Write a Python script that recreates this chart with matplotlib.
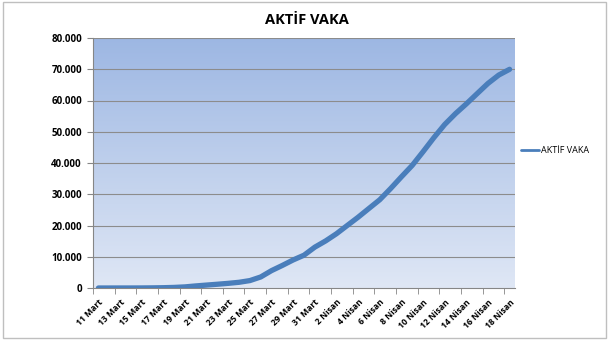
import numpy as np
import matplotlib.pyplot as plt
from matplotlib.patches import Rectangle

# Active cases, 11 Mart - 18 Nisan
days = [f"{d} Mart" for d in range(11, 32)] + [f"{d} Nisan" for d in range(1, 19)]
active = [1, 1, 5, 6, 18, 47, 97, 189, 356, 666, 938, 1206, 1492, 1828, 2374,
          3528, 5564, 7224, 8981, 10497, 13074, 15069, 17364, 20012, 22647,
          25453, 28242, 31802, 35568, 39232, 43600, 48101, 52312, 55796,
          58909, 62200, 65461, 68146, 69986]
series_name = "AKTİF VAKA"
y_ticks = [0, 10000, 20000, 30000, 40000, 50000, 60000, 70000, 80000]

plt.rcParams['font.family'] = ['Open Sans', 'DejaVu Sans']

fig = plt.figure(figsize=(6.14, 3.51), dpi=100)
ax = fig.add_axes([93/614, 63/351, 422/614, 250/351])

x = np.arange(len(days))
ax.set_xlim(-0.5, len(days) - 0.5)
ax.set_ylim(0, 80000)

# gradient background of the plot area
grad = np.linspace(0, 1, 256).reshape(-1, 1)
top = np.array([0.616, 0.718, 0.890])
bottom = np.array([0.875, 0.906, 0.961])
img = bottom + (top - bottom) * grad
ax.imshow(img.reshape(256, 1, 3), aspect='auto', origin='lower',
          extent=(-0.5, len(days) - 0.5, 0, 80000), zorder=0)

for yv in y_ticks[1:]:
    ax.axhline(yv, color='#8C8C8C', lw=0.8, zorder=1)

ax.plot(x, active, color='#4A7EBB', lw=3.8, solid_capstyle='round',
        solid_joinstyle='round', zorder=3, label=series_name)

ax.set_yticks(y_ticks)
ax.set_yticklabels([f"{v:,}".replace(",", ".") for v in y_ticks],
                   fontsize=7, fontweight='bold')
ax.tick_params(axis='y', length=4, color='#868686', pad=4)

ax.set_xticks(x[::2])
ax.set_xticklabels(days[::2], rotation=45, ha='right', rotation_mode='anchor',
                   fontsize=6.2, fontweight='bold')
ax.set_xticks(np.arange(-0.5, len(days), 2), minor=True)
ax.tick_params(axis='x', which='major', length=0, pad=7)
ax.tick_params(axis='x', which='minor', length=4, color='#868686')

for s in ['top', 'right']:
    ax.spines[s].set_visible(False)
for s in ['left', 'bottom']:
    ax.spines[s].set_color('#868686')
    ax.spines[s].set_linewidth(0.8)

fig.text(307/614, 1 - 20/351, "AKTİF VAKA", ha='center', va='center',
         fontsize=10.5, fontweight='bold')

leg = ax.legend(loc='center left', bbox_to_anchor=(0.995, 0.55), frameon=False,
                fontsize=6.5, handlelength=2.0, handletextpad=0.2)
for line in leg.get_lines():
    line.set_linewidth(2)

fig.patches.append(Rectangle((3/614, 1 - 338/351), 603/614, 336/351,
                             transform=fig.transFigure, fill=False,
                             edgecolor='#BFBFBF', lw=1))

fig.savefig('out.png', dpi=100)
